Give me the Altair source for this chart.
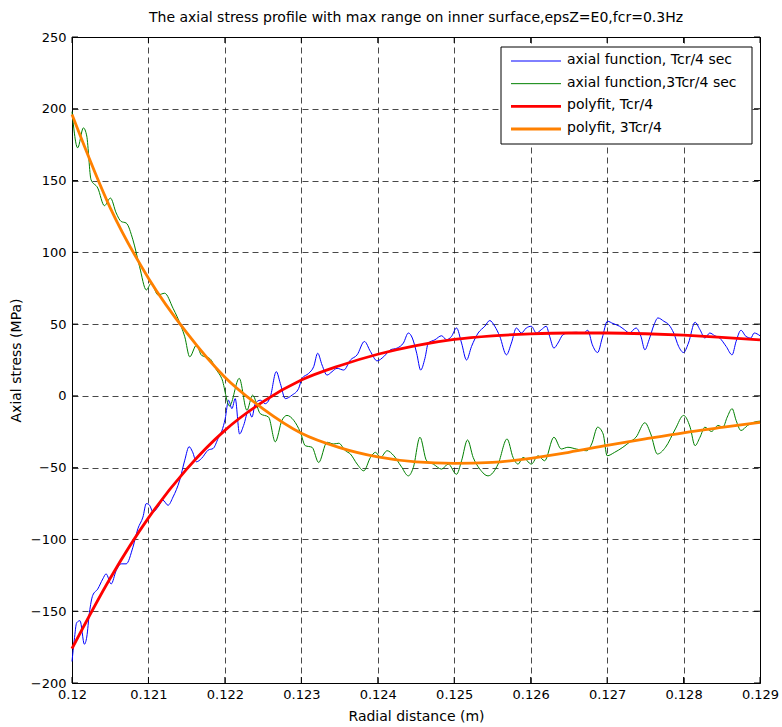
import altair as alt
import pandas as pd

# ---------------- data ----------------
blue_x = [0.12000, 0.12003, 0.120061, 0.120105, 0.120162, 0.120193, 0.120228, 0.120271, 0.120337,
          0.120403, 0.120446, 0.120512, 0.120578, 0.120643, 0.120709, 0.120797, 0.120862, 0.120928,
          0.120972, 0.121015, 0.121059, 0.121125, 0.121190, 0.121256, 0.121322, 0.121409, 0.121475,
          0.121532, 0.121576, 0.121628, 0.121694, 0.121781, 0.121847, 0.121912, 0.121960, 0.122004,
          0.122048, 0.122092, 0.122135, 0.122192, 0.122245, 0.122310, 0.122354, 0.122397, 0.122463,
          0.122528, 0.122594, 0.122672, 0.122725, 0.122790, 0.122878, 0.122965, 0.123009, 0.123096,
          0.123162, 0.123214, 0.123271, 0.123336, 0.123402, 0.123467, 0.123555, 0.123642, 0.123730,
          0.123825, 0.123904, 0.123991, 0.124079, 0.124166, 0.124253, 0.124335, 0.124400, 0.124452,
          0.124509, 0.124561, 0.124617, 0.124661, 0.124748, 0.124835, 0.124900, 0.124965, 0.125030,
          0.125096, 0.125161, 0.125226, 0.125313, 0.125400, 0.125465, 0.125530, 0.125596, 0.125683,
          0.125748, 0.125813, 0.125878, 0.125943, 0.126009, 0.126074, 0.126139, 0.126204, 0.126248,
          0.126304, 0.126357, 0.126422, 0.126487, 0.126596, 0.126690, 0.126747, 0.126807, 0.126876,
          0.126936, 0.127004, 0.127077, 0.127163, 0.127227, 0.127292, 0.127378, 0.127442, 0.127494,
          0.127549, 0.127614, 0.127665, 0.127742, 0.127807, 0.127871, 0.127936, 0.128000, 0.128064,
          0.128150, 0.128215, 0.128279, 0.128343, 0.128408, 0.128472, 0.128558, 0.128635, 0.128687,
          0.128751, 0.128815, 0.128880, 0.128923, 0.129000]
blue_y = [-185, -170, -158, -156.6, -173, -168, -151, -139, -134.5,
          -127.5, -124, -131, -121.7, -117, -117, -105.4, -92.5, -84.4,
          -75, -76.2, -80.9, -77.4, -72.7, -76.2, -70.4, -58.7, -44.8,
          -35.4, -38.9, -45.9, -43.6, -37.8, -36.6, -29.6, -24.5, -15.9,
          -3, -8.9, -1.9, -26.5, -20.6, -10, -14.8, -5.4, -3,
          -5.4, -0.7, 16.9, 8.7, -1.9, 0.5, 5.2, 12.2, 15.7,
          20.4, 29.7, 21.5, 14.5, 16.9, 19.2, 18, 25, 28.6,
          37.9, 30.9, 24.4, 27.4, 32.1, 33.3, 36.8, 43.8, 40.3,
          29.7, 18, 26.2, 36.8, 39.1, 41.9, 39.1, 41.5, 47.3,
          36.8, 25, 34.4, 43.8, 48.5, 52.5, 48.5, 41.5, 28.6,
          36.8, 47.3, 43.8, 47.3, 48.5, 43.8, 46.1, 48.5, 41.5,
          33.3, 36.8, 42.6, 43.8, 44.3, 43.8, 45.7, 35.6, 30.2,
          40.3, 52, 50.4, 48.5, 46.1, 43.8, 47.3, 41.5, 32.1,
          39.1, 49.6, 54.3, 52, 49.6, 43.8, 34.4, 30.2, 36.8,
          51.3, 46.1, 40.3, 43.8, 41.9, 40.3, 34.4, 28.6, 37.9,
          45.7, 41.5, 40.3, 43.8, 41.9]

green_x = [0.12000, 0.120074, 0.120149, 0.120193, 0.120249, 0.120337, 0.120424, 0.120503, 0.120578,
           0.120643, 0.120709, 0.120797, 0.120884, 0.120972, 0.121037, 0.121125, 0.121212, 0.121322,
           0.121431, 0.121475, 0.121540, 0.121628, 0.121694, 0.121803, 0.121891, 0.121960, 0.122060,
           0.122188, 0.122288, 0.122362, 0.122463, 0.122572, 0.122659, 0.122747, 0.122812, 0.122900,
           0.122987, 0.123052, 0.123140, 0.123227, 0.123336, 0.123424, 0.123490, 0.123576, 0.123642,
           0.123730, 0.123817, 0.123904, 0.123970, 0.124035, 0.124122, 0.124210, 0.124305, 0.124400,
           0.124465, 0.124552, 0.124639, 0.124726, 0.124835, 0.124922, 0.125030, 0.125096, 0.125174,
           0.125248, 0.125335, 0.125443, 0.125574, 0.125691, 0.125770, 0.125835, 0.125900, 0.126009,
           0.126096, 0.126183, 0.126304, 0.126400, 0.126487, 0.126596, 0.126734, 0.126798, 0.126876,
           0.126948, 0.127000, 0.127099, 0.127206, 0.127292, 0.127378, 0.127494, 0.127571, 0.127657,
           0.127764, 0.127893, 0.128000, 0.128086, 0.128150, 0.128215, 0.128279, 0.128365, 0.128451,
           0.128515, 0.128571, 0.128635, 0.128687, 0.128751, 0.128837, 0.128923, 0.129000]
green_y = [198, 172.8, 186.7, 181, 150.6, 144.8, 132.5, 137.8, 127.4,
           121.5, 120.4, 108.7, 90, 73.8, 78.5, 70.3, 71.5, 61,
           48, 41.2, 27.2, 35.3, 28.3, 26, 18, 12, -7,
           12.2, -10, 0.5, -12.4, -14.8, -32, -17, -13.6, -17,
           -25.3, -34.7, -35.8, -46.4, -32.3, -33.5, -33, -38.2, -40.5,
           -47.5, -52.2, -42.9, -39.3, -42.9, -38.2, -41.7, -49, -55.7,
           -49.9, -28.8, -45.2, -47.5, -51, -47.5, -54.6, -45.2, -30.7,
           -42.9, -51, -55.7, -47.5, -30, -42.9, -47.5, -42.9, -47.5,
           -41.7, -45.2, -28.8, -37, -35.8, -37, -38.2, -33.5, -21.8,
           -26.5, -41.7, -39.3, -35.8, -32.3, -28.8, -18.7, -26.5, -40.5,
           -35.8, -23, -13.6, -21.8, -34.7, -28.8, -21.8, -24.8, -20.6,
           -21.8, -14.8, -8.9, -17, -24.1, -20.6, -18.3, -17.6]

fit_x = [0.1200, 0.1205, 0.1210, 0.1215, 0.1220, 0.1225, 0.1230, 0.1235, 0.1240, 0.1245,
         0.1250, 0.1255, 0.1260, 0.1265, 0.1270, 0.1275, 0.1280, 0.1285, 0.1290]
red_y = [-176, -127, -85, -51, -24, -4, 11, 21, 29, 35,
         39.3, 41.8, 43.2, 43.8, 43.8, 43.3, 42.3, 40.8, 39]
orange_y = [196, 131, 82, 44, 13, -9, -26, -36, -42.5, -46,
            -47, -46.3, -43.5, -39.3, -34.5, -30, -25.7, -22, -18.5]

series_names = ["axial function, Tcr/4 sec", "axial function,3Tcr/4 sec",
                "polyfit, Tcr/4", "polyfit, 3Tcr/4"]
series_colors = ["#0000FF", "#008000", "#FF0000", "#FF8000"]

x_ticks = [0.12, 0.121, 0.122, 0.123, 0.124, 0.125, 0.126, 0.127, 0.128, 0.129]
y_ticks = [-200, -150, -100, -50, 0, 50, 100, 150, 200, 250]

# ---------------- build tables ----------------
frames = []
for name, xs, ys in zip(series_names, [blue_x, green_x, fit_x, fit_x],
                        [blue_y, green_y, red_y, orange_y]):
    frames.append(pd.DataFrame({"r": xs, "s": ys, "series": name}))
df = pd.concat(frames, ignore_index=True)
legend_df = pd.DataFrame({"series": series_names})
xt_df = pd.DataFrame({"r": x_ticks})
yt_df = pd.DataFrame({"s": y_ticks})

FONT = "DejaVu Sans"
W, H = 688, 646

color = alt.Color("series:N", scale=alt.Scale(domain=series_names, range=series_colors),
                  legend=None)

x = alt.X("r:Q", scale=alt.Scale(domain=[0.12, 0.129], nice=False, zero=False),
          axis=alt.Axis(values=x_ticks, format=".3~f", title="Radial distance (m)",
                        grid=True, ticks=False, labelPadding=5, titlePadding=8,
                        labelFlush=False, labelOverlap=False))
y = alt.Y("s:Q", scale=alt.Scale(domain=[-200, 250], nice=False, zero=False),
          axis=alt.Axis(values=y_ticks, title="Axial stress (MPa)",
                        grid=True, ticks=False, labelPadding=6, titlePadding=7,
                        labelFlush=False, labelOverlap=False))

base = alt.Chart(df)
noisy = base.transform_filter(
    alt.FieldOneOfPredicate(field="series", oneOf=series_names[:2])
).mark_line(interpolate="monotone", strokeWidth=1).encode(
    x=x, y=y, color=color, detail="series:N", order="r:Q")
fits = base.transform_filter(
    alt.FieldOneOfPredicate(field="series", oneOf=series_names[2:])
).mark_line(interpolate="monotone", strokeWidth=2.8).encode(
    x=x, y=y, color=color, detail="series:N", order="r:Q")

# inward tick marks (MATLAB style) on all four sides
tick_len = 6
xt_bottom = alt.Chart(xt_df).mark_rule(color="black", strokeWidth=1).encode(
    x="r:Q", y=alt.value(H), y2=alt.value(H - tick_len))
xt_top = alt.Chart(xt_df).mark_rule(color="black", strokeWidth=1).encode(
    x="r:Q", y=alt.value(0), y2=alt.value(tick_len))
yt_left = alt.Chart(yt_df).mark_rule(color="black", strokeWidth=1).encode(
    y="s:Q", x=alt.value(0), x2=alt.value(tick_len))
yt_right = alt.Chart(yt_df).mark_rule(color="black", strokeWidth=1).encode(
    y="s:Q", x=alt.value(W), x2=alt.value(W - tick_len))

data_layer = alt.layer(noisy, fits, xt_bottom, xt_top, yt_left, yt_right)

# ---------------- legend (drawn in the plot, top right) ----------------
ly = alt.Y("series:N", scale=alt.Scale(type="point", domain=series_names, range=[24, 92],
                                        padding=0), axis=None)
leg_box = alt.Chart(legend_df).transform_filter(
    alt.datum.series == series_names[0]
).mark_rect(fill="white", stroke="black", strokeWidth=1).encode(
    x=alt.value(429), x2=alt.value(680), y=alt.value(10), y2=alt.value(107))
leg_thin = alt.Chart(legend_df).transform_filter(
    alt.FieldOneOfPredicate(field="series", oneOf=series_names[:2])
).mark_rule(strokeWidth=1).encode(x=alt.value(439), x2=alt.value(489), y=ly, color=color)
leg_thick = alt.Chart(legend_df).transform_filter(
    alt.FieldOneOfPredicate(field="series", oneOf=series_names[2:])
).mark_rule(strokeWidth=2.8).encode(x=alt.value(439), x2=alt.value(489), y=ly, color=color)
leg_text = alt.Chart(legend_df).mark_text(
    align="left", baseline="middle", font=FONT, fontSize=14, color="black", dy=-1
).encode(x=alt.value(495), y=ly, text="series:N")
legend_layer = alt.layer(leg_box, leg_thin, leg_thick, leg_text)

chart = alt.layer(data_layer, legend_layer).resolve_scale(
    y="independent"
).properties(
    width=W, height=H,
    autosize=alt.AutoSizeParams(type="none"),
    padding={"left": 72, "top": 37, "right": 22, "bottom": 44},
    title=alt.Title("The axial stress profile with max range on inner surface,epsZ=E0,fcr=0.3Hz",
                    font=FONT, fontSize=14, fontWeight="normal", offset=6, anchor="middle",
                    color="black"),
).configure(background="white").configure_view(stroke="black", strokeWidth=1).configure_axis(
    labelFont=FONT, labelFontSize=13, labelColor="black",
    titleFont=FONT, titleFontSize=14, titleFontWeight="normal", titleColor="black",
    gridColor="black", gridDash=[6, 4], gridWidth=0.8, gridOpacity=0.9,
    domain=False,
)

chart.save("out.html", embed_options={"renderer": "svg", "actions": False})
